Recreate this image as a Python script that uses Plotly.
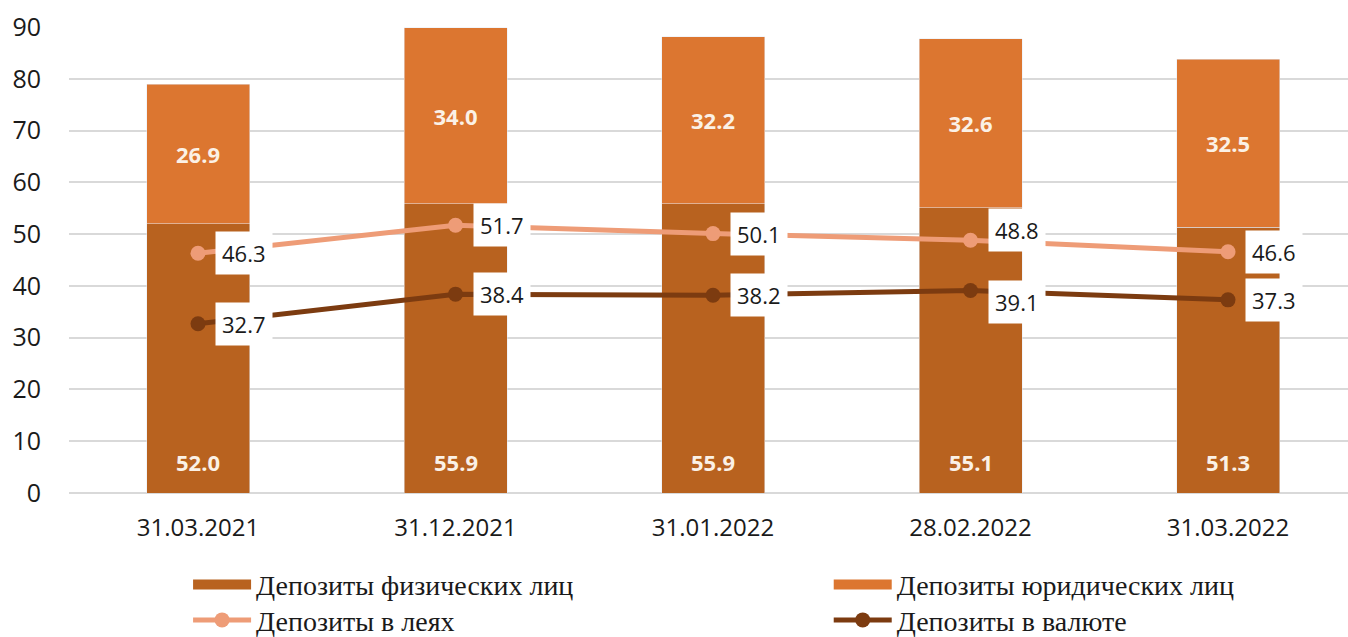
import plotly.graph_objects as go

categories = ["31.03.2021", "31.12.2021", "31.01.2022", "28.02.2022", "31.03.2022"]
individuals = [52.0, 55.9, 55.9, 55.1, 51.3]
legal_entities = [26.9, 34.0, 32.2, 32.6, 32.5]
deposits_lei = [46.3, 51.7, 50.1, 48.8, 46.6]
deposits_fx = [32.7, 38.4, 38.2, 39.1, 37.3]
y_ticks = [0, 10, 20, 30, 40, 50, 60, 70, 80, 90]

names = ["Депозиты физических лиц", "Депозиты юридических лиц",
         "Депозиты в леях", "Депозиты в валюте"]
title_text = "Депозиты в банковском секторе, в млрд леев"

# label vertical nudges (px), style only
lei_nudge = [0, 0, 0, 10, 0]
fx_nudge = [0, 0, 0, -11, 0]

C_IND = "#B8621F"
C_LEG = "#DC7630"
C_LEI = "#EE9C77"
C_FX = "#7C3B10"
SANS = "Open Sans"
SERIF = "Liberation Serif"

fig = go.Figure()
fig.add_trace(go.Bar(x=categories, y=individuals, name=names[0], marker_color=C_IND,
                     width=0.4, showlegend=False))
fig.add_trace(go.Bar(x=categories, y=legal_entities, name=names[1], marker_color=C_LEG,
                     width=0.4, texttemplate="%{y:.1f}", textposition="inside",
                     insidetextanchor="middle",
                     textfont=dict(family=SANS, size=22, color="#FBF1E6", weight="bold"),
                     showlegend=False))
fig.add_trace(go.Scatter(x=categories, y=deposits_lei, name=names[2], mode="lines+markers",
                         line=dict(color=C_LEI, width=5), marker=dict(size=15, color=C_LEI),
                         legend="legend3"))
fig.add_trace(go.Scatter(x=categories, y=deposits_fx, name=names[3], mode="lines+markers",
                         line=dict(color=C_FX, width=5), marker=dict(size=15, color=C_FX),
                         legend="legend4"))
# legend proxies for the bar series (wide rectangle symbols)
fig.add_trace(go.Scatter(x=[None], y=[None], name=names[0], mode="lines",
                         line=dict(color=C_IND, width=14), legend="legend"))
fig.add_trace(go.Scatter(x=[None], y=[None], name=names[1], mode="lines",
                         line=dict(color=C_LEG, width=14), legend="legend2"))

annotations = []
for c, v in zip(categories, individuals):
    annotations.append(dict(x=c, y=0, xref="x", yref="y", text=f"{v:.1f}", showarrow=False,
                            yanchor="bottom", yshift=14,
                            font=dict(family=SANS, size=22, color="#FBF1E6", weight="bold")))
for series, nudge in ((deposits_lei, lei_nudge), (deposits_fx, fx_nudge)):
    for c, v, n in zip(categories, series, nudge):
        annotations.append(dict(x=c, y=v, xref="x", yref="y", text=f"{v:.1f}", showarrow=False,
                                xanchor="left", yanchor="middle", xshift=17, yshift=n,
                                bgcolor="white", borderpad=6,
                                font=dict(family=SANS, size=22, color="#1A1A1A")))
annotations.append(dict(x=0.5, y=1.053, xref="paper", yref="paper", text=title_text,
                        showarrow=False, yanchor="bottom",
                        font=dict(family=SERIF, size=31, color="#1A1A1A")))

leg_font = dict(family=SERIF, size=28, color="#1A1A1A")
def leg(x, y):
    return dict(orientation="h", x=x, y=y, xanchor="left", yanchor="middle",
                itemwidth=58, font=leg_font, bgcolor="rgba(0,0,0,0)")

fig.update_layout(
    width=1348, height=637,
    margin=dict(l=69, r=0, t=27, b=144, autoexpand=False),
    paper_bgcolor="white", plot_bgcolor="white",
    barmode="stack",
    annotations=annotations,
    xaxis=dict(type="category", range=[-0.501, 4.466], showgrid=False, showline=False,
               tickfont=dict(family=SANS, size=24, color="#1A1A1A"), ticklabelstandoff=18),
    yaxis=dict(range=[0, 90], tickvals=y_ticks, showgrid=True, gridcolor="#D9D9D9", gridwidth=2,
               zeroline=True, zerolinecolor="#D9D9D9", zerolinewidth=2,
               tickfont=dict(family=SANS, size=25, color="#1A1A1A"), ticklabelstandoff=27),
    legend=leg(0.0931, -0.197),
    legend2=leg(0.594, -0.197),
    legend3=leg(0.0931, -0.273),
    legend4=leg(0.594, -0.273),
    showlegend=True,
)

fig.write_html("out.html", config={"displayModeBar": False},
               post_script="document.body.style.margin='0px';")
